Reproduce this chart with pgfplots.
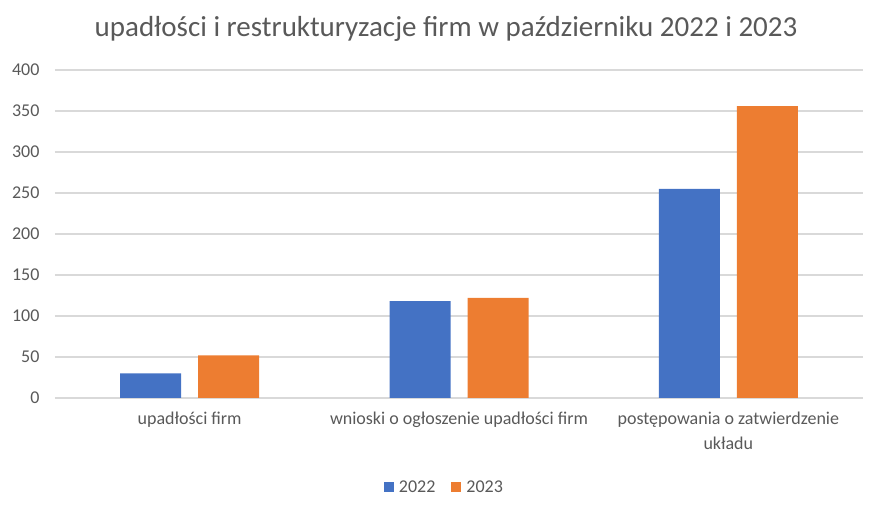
\documentclass[border=0pt]{standalone}
\usepackage{fontspec}
\setmainfont{Carlito}
\usepackage{pgfplots}
\pgfplotsset{compat=1.18}

\definecolor{blue22}{HTML}{4472C4}
\definecolor{orange23}{HTML}{ED7D31}
\definecolor{gridgray}{HTML}{D9D9D9}
\definecolor{txtgray}{HTML}{595959}

\begin{document}
\begin{tikzpicture}
\path[use as bounding box] (0,0) rectangle (894pt,516pt);
\node[text=txtgray, font=\fontsize{29}{34}\selectfont] at (446pt,487pt)
  {upadłości i restrukturyzacje firm w październiku 2022 i 2023};
\begin{axis}[
    at={(55pt,118pt)}, anchor=south west,
    scale only axis, width=808pt, height=328pt,
    ybar=17pt, bar width=61pt,
    xmin=-0.5, xmax=2.5,
    ymin=0, ymax=400,
    xtick=data,
    xticklabels={upadłości firm, wnioski o ogłoszenie upadłości firm, postępowania o zatwierdzenie\\układu},
    ytick={0,50,...,400},
    ymajorgrids, major grid style={gridgray, line width=1.3pt},
    axis line style={draw=none},
    major tick style={draw=none},
    tick label style={text=txtgray, font=\fontsize{18}{25}\selectfont},
    x tick label style={align=center, yshift=-6pt},
    y tick label style={xshift=-12pt},
    /pgf/number format/assume math mode=true,
    legend style={at={(0.482,-0.2713)}, anchor=center, draw=none,
        legend columns=2, font=\fontsize{18}{22}\selectfont, text=txtgray,
        /tikz/every even column/.append style={column sep=14pt}},
    legend image code/.code={\fill[#1] (0pt,-5pt) rectangle (10pt,5pt);
        \path (13pt,0pt);},
]
\addplot[fill=blue22, draw=none] coordinates {(0,30) (1,118) (2,255)};
\addplot[fill=orange23, draw=none] coordinates {(0,52) (1,122) (2,356)};
\legend{2022,2023}
\end{axis}
\end{tikzpicture}
\end{document}
